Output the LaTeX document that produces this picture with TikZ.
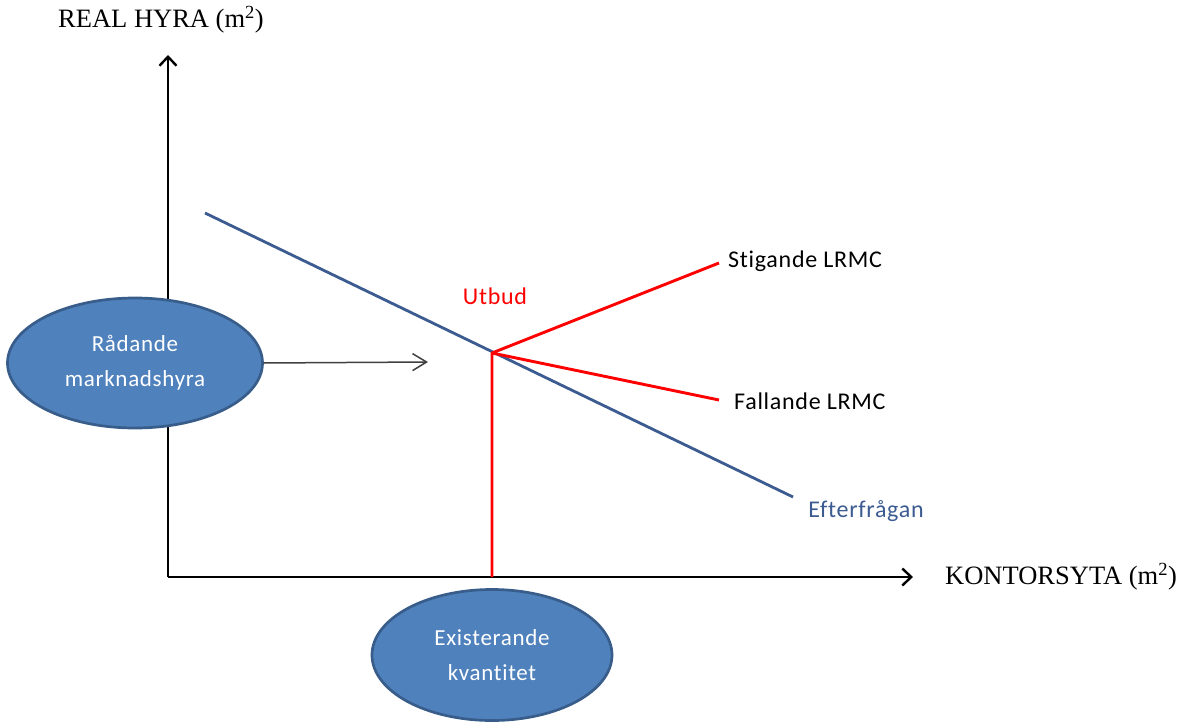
\documentclass[tikz,border=0pt]{standalone}
\usepackage{fontspec}
\setmainfont{Liberation Serif}
\newfontfamily\carlito[Ligatures=NoCommon,LetterSpace=3]{Carlito}
\usetikzlibrary{shapes.geometric,arrows.meta}
\definecolor{ellfill}{HTML}{4F81BD}
\definecolor{elldraw}{HTML}{385D8A}
\definecolor{demand}{HTML}{3B5B91}
\definecolor{supred}{HTML}{FF0000}
\definecolor{thinarrow}{HTML}{404040}
\tikzset{
  axis/.style={line width=2.4pt, black, -{Straight Barb[length=9pt,width=17pt,line width=2.4pt]}},
  oval/.style={ellipse, fill=ellfill, draw=elldraw, line width=2.7pt, text=white, align=center, inner sep=0pt,
    font=\carlito\fontsize{23}{35}\selectfont},
  axislabel/.style={font=\fontsize{26.5}{30}\selectfont, anchor=west, inner sep=0pt},
  lbl/.style={font=\carlito\fontsize{24}{28}\selectfont, inner sep=0pt},
  redline/.style={supred, line width=2.9pt},
}
\begin{document}
\begin{tikzpicture}[x=1pt,y=-1pt]
\useasboundingbox (0,0) rectangle (1186,725);
% coordinates
\coordinate (O) at (168,577);
\coordinate (Ytop) at (168,55);
\coordinate (Xend) at (913,577);
\coordinate (D1) at (205,213);
\coordinate (D2) at (793,497);
\coordinate (E) at (492,353);
\coordinate (B) at (492,577);
\coordinate (S) at (719,263);
\coordinate (F) at (719,400);
\coordinate (A) at (428,362);
% axes
\draw[axis] (O) -- (Ytop);
\draw[axis] (O) -- (Xend);
\node[axislabel] (ylab) at (58,20) {REAL HYRA (m\textsuperscript{2})};
\node[axislabel] (xlab) at (945,577) {KONTORSYTA (m\textsuperscript{2})};
% demand
\draw[demand, line width=2.8pt] (D1) -- (D2);
\node[lbl, text=demand] (eft) at (866,511) {Efterfrågan};
% supply
\draw[redline, line join=round] (B) -- (E) -- (S);
\draw[redline] (E) -- (F);
\node[lbl, text=supred] (utb) at (495,296) {Utbud};
\node[lbl, anchor=west] (stig) at (728,261) {Stigande LRMC};
\node[lbl, anchor=west] (fall) at (734,401) {Fallande LRMC};
% ellipses
\node[oval, minimum width=255pt, minimum height=130pt] (rad) at (135,363) {Rådande\\marknadshyra};
\node[oval, minimum width=240pt, minimum height=131pt] (exi) at (492,655) {Existerande\\kvantitet};
% thin arrow
\draw[thinarrow, line width=1.5pt, -{Straight Barb[length=14pt,width=17pt,line width=1.5pt]}] (rad.east) -- (A);
\end{tikzpicture}
\end{document}
